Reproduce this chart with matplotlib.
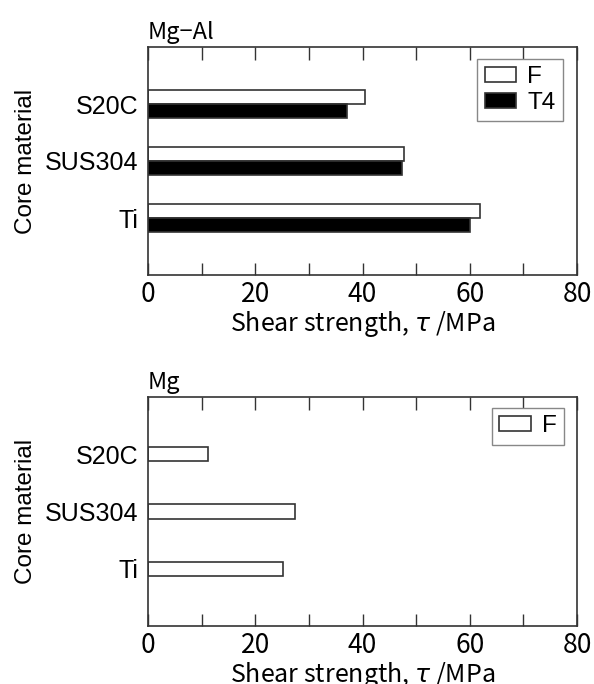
import matplotlib
matplotlib.use("Agg")
import matplotlib.pyplot as plt
import numpy as np

plt.rcParams['mathtext.fontset'] = 'dejavusans'

categories = ["Ti", "SUS304", "S20C"]
mgal_F = [62.0, 47.8, 40.5]
mgal_T4 = [60.1, 47.4, 37.1]
mg_F = [25.1, 27.5, 11.1]
xticks_major = [0, 20, 40, 60, 80]
xticks_minor = [10, 30, 50, 70]

JP = ['Noto Sans CJK JP', 'DejaVu Sans']
LAT = ['Liberation Sans', 'DejaVu Sans']
EC = '#333333'

fig = plt.figure(figsize=(5.94, 6.84), dpi=100)
ax1 = fig.add_axes([148/594, 1-275/684, 429/594, 228/684])
ax2 = fig.add_axes([148/594, 1-626/684, 429/594, 229/684])

y = np.arange(len(categories))
h = 0.25

ax1.barh(y + h/2, mgal_F, height=h, color='white', edgecolor=EC, linewidth=1.2, label='F')
ax1.barh(y - h/2, mgal_T4, height=h, color='black', edgecolor=EC, linewidth=1.2, label='T4')
ax2.barh(y, mg_F, height=h, color='white', edgecolor=EC, linewidth=1.2, label='F')

for ax, title, anchor in [(ax1, "Mg\u2212Al", (0.967, 0.947)), (ax2, "Mg", (0.97, 0.952))]:
    ax.set_xlim(0, 80)
    ax.set_ylim(-1, 3)
    ax.set_yticks(y)
    ax.set_yticklabels(categories, family=LAT, fontsize=18)
    ax.tick_params(axis='y', length=0, pad=7)
    ax.set_xticks(xticks_major)
    ax.set_xticks(xticks_minor, minor=True)
    ax.set_xticklabels([str(v) for v in xticks_major], family=JP, fontsize=19)
    ax.tick_params(axis='x', which='both', direction='in', top=True, bottom=True,
                   length=9, width=1.0, color=EC, pad=4)
    for s in ax.spines.values():
        s.set_color(EC)
        s.set_linewidth(1.2)
    ax.set_xlabel("Shear strength, $\\tau$ /MPa", family=JP, fontsize=18, labelpad=1)
    ax.set_ylabel("Core material", family=LAT, fontsize=17.5)
    ax.yaxis.set_label_coords(-0.258, 0.5)
    ax.set_title(title, loc='left', family=JP, fontsize=17, pad=6)
    leg = ax.legend(loc='upper right', bbox_to_anchor=anchor, borderaxespad=0,
                    fancybox=False, framealpha=1, edgecolor='#888888',
                    prop={'family': LAT, 'size': 17.5}, handlelength=1.3,
                    handleheight=0.55, handletextpad=0.45, borderpad=0.3,
                    labelspacing=0.15)
    leg.get_frame().set_linewidth(1.0)

fig.savefig("out.png", dpi=100)
